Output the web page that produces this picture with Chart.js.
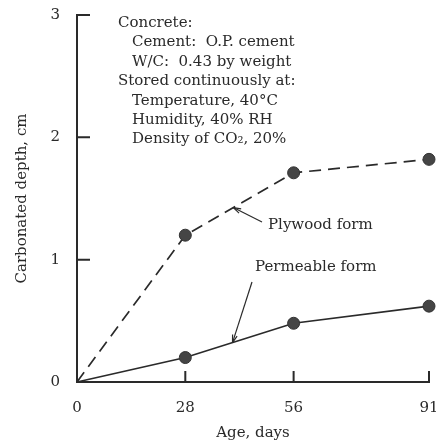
<!DOCTYPE html>
<html><head><meta charset="utf-8">
<script src="https://cdn.jsdelivr.net/npm/chart.js@4/dist/chart.umd.min.js"></script>
<style>html,body{margin:0;padding:0;background:#fff}#wrap{width:436px;height:442px}</style>
</head><body><div id="wrap"><canvas id="c" width="436" height="442"></canvas></div>
<script>
const days = [0, 28, 56, 91];
const plywood = [0, 1.2, 1.71, 1.82];
const permeable = [0, 0.2, 0.48, 0.62];
const xTicks = [0, 28, 56, 91];
const yTicks = [0, 1, 2, 3];
const infoLines = ["Concrete:", "  Cement:  O.P. cement", "  W/C:  0.43 by weight", "Stored continuously at:", "  Temperature, 40°C", "  Humidity, 40% RH", "  Density of CO₂, 20%"];

const FONT = "DejaVu Serif";
const INK = "#2a2a2a";

const decor = {
  id: "decor",
  afterDraw(chart) {
    const ctx = chart.ctx, xs = chart.scales.x, ys = chart.scales.y;
    const x0 = xs.getPixelForValue(0), y0 = ys.getPixelForValue(0);
    ctx.save();
    ctx.strokeStyle = INK; ctx.lineWidth = 2;
    ctx.beginPath();
    yTicks.slice(1).forEach(v => { const y = ys.getPixelForValue(v); ctx.moveTo(x0, y); ctx.lineTo(x0 + 13, y); });
    xTicks.slice(1).forEach(v => { const x = xs.getPixelForValue(v); ctx.moveTo(x, y0); ctx.lineTo(x, y0 - 11); });
    ctx.stroke();
    ctx.fillStyle = INK; ctx.font = "15px '" + FONT + "'"; ctx.textBaseline = "alphabetic";
    infoLines.forEach((t, i) => {
      const indent = t.startsWith("  ");
      ctx.fillText(t.trim(), indent ? 132 : 118, 27 + i * 19.4);
    });
    function interp(arr, d) {
      for (let i = 0; i < days.length - 1; i++) {
        if (d >= days[i] && d <= days[i + 1]) return arr[i] + (arr[i + 1] - arr[i]) * (d - days[i]) / (days[i + 1] - days[i]);
      }
      return arr[arr.length - 1];
    }
    function arrow(fx, fy, tx, ty) {
      ctx.lineWidth = 1.2;
      ctx.beginPath(); ctx.moveTo(fx, fy); ctx.lineTo(tx, ty); ctx.stroke();
      const a = Math.atan2(ty - fy, tx - fx), L = 8, w = 0.3;
      ctx.beginPath();
      ctx.moveTo(tx, ty);
      ctx.lineTo(tx - L * Math.cos(a - w), ty - L * Math.sin(a - w));
      ctx.moveTo(tx, ty);
      ctx.lineTo(tx - L * Math.cos(a + w), ty - L * Math.sin(a + w));
      ctx.stroke();
    }
    ctx.textBaseline = "middle";
    ctx.fillText("Plywood form", 268, 225);
    arrow(262, 222, xs.getPixelForValue(40.4), ys.getPixelForValue(interp(plywood, 40.4)));
    ctx.fillText("Permeable form", 255, 267);
    arrow(252, 282, xs.getPixelForValue(40.2), ys.getPixelForValue(interp(permeable, 40.2)));
    ctx.restore();
  }
};

const mk = (vals) => days.map((d, i) => ({ x: d, y: vals[i] }));
new Chart(document.getElementById("c"), {
  type: "scatter",
  data: {
    datasets: [
      { label: "Plywood form", data: mk(plywood), showLine: true, borderColor: INK, borderWidth: 1.7, borderDash: [12, 7],
        pointRadius: [0, 6, 6, 6], pointBackgroundColor: "#454545", pointBorderColor: "#333", pointBorderWidth: 1, clip: false },
      { label: "Permeable form", data: mk(permeable), showLine: true, borderColor: INK, borderWidth: 1.7,
        pointRadius: [0, 6, 6, 6], pointBackgroundColor: "#454545", pointBorderColor: "#333", pointBorderWidth: 1, clip: false }
    ]
  },
  options: {
    responsive: false, animation: false, devicePixelRatio: 1,
    layout: { padding: { top: 15, right: 6, bottom: 0, left: 0 } },
    plugins: { legend: { display: false }, tooltip: { enabled: false } },
    scales: {
      x: {
        type: "linear", min: 0, max: 91,
        afterBuildTicks: s => { s.ticks = xTicks.map(v => ({ value: v })); },
        afterFit: s => { s.height = 60; s.paddingLeft = 0; s.paddingRight = 0; },
        grid: { display: false }, border: { display: true, color: INK, width: 2 },
        ticks: { color: INK, font: { family: FONT, size: 15 }, padding: 9, maxRotation: 0 },
        title: { display: true, text: "Age, days", color: INK, font: { family: FONT, size: 15 }, padding: { top: 0, bottom: 0 } }
      },
      y: {
        type: "linear", min: 0, max: 3,
        afterBuildTicks: s => { s.ticks = yTicks.map(v => ({ value: v })); },
        afterFit: s => { s.width = 77; s.paddingTop = 0; s.paddingBottom = 0; },
        grid: { display: false }, border: { display: true, color: INK, width: 2 },
        ticks: { color: INK, font: { family: FONT, size: 15 }, padding: 9 },
        title: { display: true, text: "Carbonated depth, cm", color: INK, font: { family: FONT, size: 15 }, padding: { top: 13, bottom: 0 } }
      }
    }
  },
  plugins: [decor]
});
</script></body></html>
